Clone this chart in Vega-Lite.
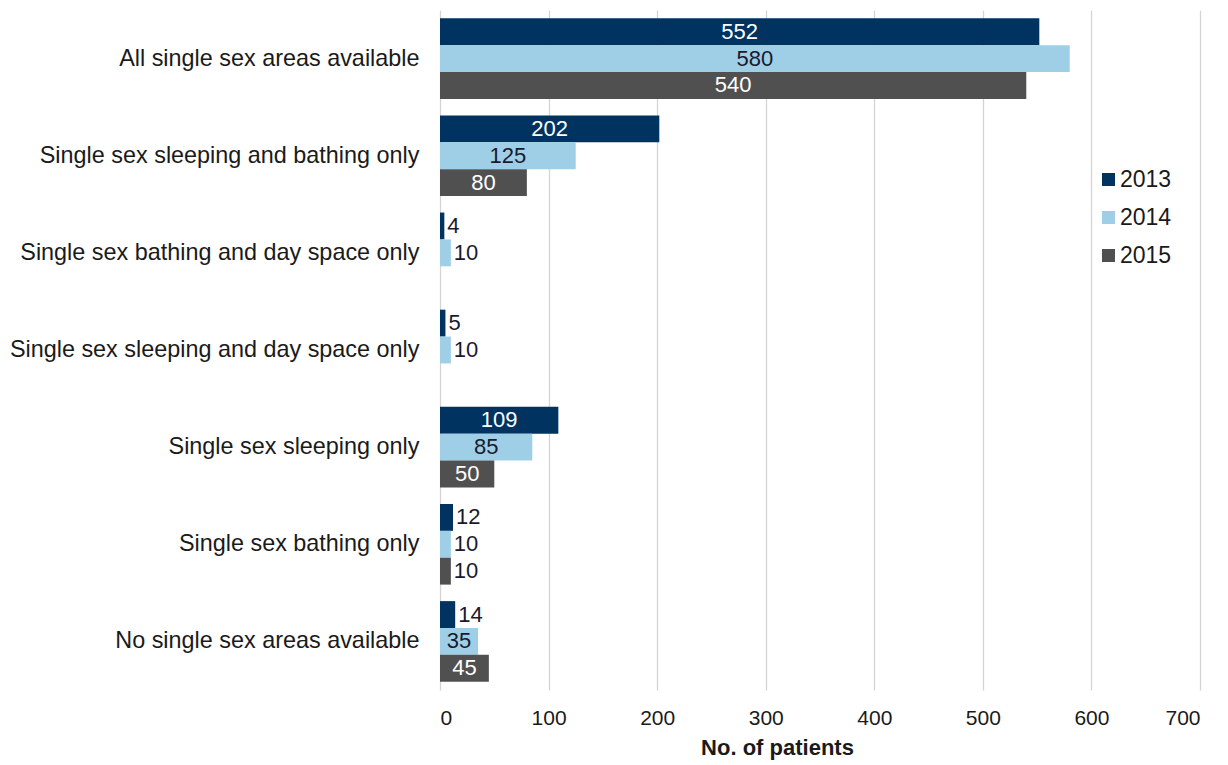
{
  "$schema": "https://vega.github.io/schema/vega-lite/v6.json",
  "autosize": "none",
  "width": 760,
  "height": 680,
  "padding": {"left": 440, "top": 10, "right": 28, "bottom": 75},
  "background": "white",
  "config": {
    "font": "Liberation Sans",
    "view": {"stroke": null}
  },
  "data": {
    "values": [
      {"cat": "All single sex areas available", "year": "2013", "v": 552},
      {"cat": "All single sex areas available", "year": "2014", "v": 580},
      {"cat": "All single sex areas available", "year": "2015", "v": 540},
      {"cat": "Single sex sleeping and bathing only", "year": "2013", "v": 202},
      {"cat": "Single sex sleeping and bathing only", "year": "2014", "v": 125},
      {"cat": "Single sex sleeping and bathing only", "year": "2015", "v": 80},
      {"cat": "Single sex bathing and day space only", "year": "2013", "v": 4},
      {"cat": "Single sex bathing and day space only", "year": "2014", "v": 10},
      {"cat": "Single sex sleeping and day space only", "year": "2013", "v": 5},
      {"cat": "Single sex sleeping and day space only", "year": "2014", "v": 10},
      {"cat": "Single sex sleeping only", "year": "2013", "v": 109},
      {"cat": "Single sex sleeping only", "year": "2014", "v": 85},
      {"cat": "Single sex sleeping only", "year": "2015", "v": 50},
      {"cat": "Single sex bathing only", "year": "2013", "v": 12},
      {"cat": "Single sex bathing only", "year": "2014", "v": 10},
      {"cat": "Single sex bathing only", "year": "2015", "v": 10},
      {"cat": "No single sex areas available", "year": "2013", "v": 14},
      {"cat": "No single sex areas available", "year": "2014", "v": 35},
      {"cat": "No single sex areas available", "year": "2015", "v": 45}
    ]
  },
  "encoding": {
    "y": {
      "field": "cat", "type": "nominal", "sort": null,
      "scale": {"paddingInner": 0.17, "paddingOuter": 0.085},
      "axis": {"title": null, "ticks": false, "domain": false, "labelFontSize": 23.4, "labelColor": "#1a1a1a", "labelPadding": 21, "labelLimit": 440}
    },
    "yOffset": {"field": "year", "type": "nominal", "scale": {"paddingInner": 0, "paddingOuter": 0}}
  },
  "layer": [
    {
      "mark": {"type": "bar"},
      "encoding": {
        "x": {
          "field": "v", "type": "quantitative",
          "scale": {"domain": [0, 700], "nice": false},
          "axis": {
            "title": "No. of patients", "titleFontSize": 22, "titleFontWeight": "bold", "titleColor": "#1a1a1a", "titlePadding": 9,
            "titleX": 337, "titleAnchor": "middle", "titleAlign": "center",
            "values": [0, 100, 200, 300, 400, 500, 600, 700],
            "domain": false, "ticks": false, "labelFontSize": 21, "labelColor": "#1a1a1a", "labelPadding": 17,
            "grid": true, "gridColor": "#d4d4d4", "gridWidth": 1.3
          }
        },
        "color": {
          "field": "year", "type": "nominal",
          "scale": {"domain": ["2013", "2014", "2015"], "range": ["#003360", "#9ecfe6", "#505050"]},
          "legend": {
            "title": null, "orient": "none", "legendX": 657, "legendY": 158,
            "symbolType": "square", "symbolSize": 169, "symbolStrokeWidth": 0,
            "labelFontSize": 23, "labelColor": "#1a1a1a", "rowPadding": 14, "labelOffset": 0
          }
        }
      }
    },
    {
      "transform": [{"filter": "datum.v >= 20 && datum.year != '2014'"}, {"calculate": "datum.v / 2", "as": "mid"}],
      "mark": {"type": "text", "align": "center", "baseline": "middle", "fontSize": 22, "fill": "white"},
      "encoding": {
        "x": {"field": "mid", "type": "quantitative"},
        "text": {"field": "v", "type": "quantitative"}
      }
    },
    {
      "transform": [{"filter": "datum.v >= 20 && datum.year == '2014'"}, {"calculate": "datum.v / 2", "as": "mid"}],
      "mark": {"type": "text", "align": "center", "baseline": "middle", "fontSize": 22, "fill": "#1a1a2e"},
      "encoding": {
        "x": {"field": "mid", "type": "quantitative"},
        "text": {"field": "v", "type": "quantitative"}
      }
    },
    {
      "transform": [{"filter": "datum.v < 20"}],
      "mark": {"type": "text", "align": "left", "baseline": "middle", "fontSize": 22, "dx": 3, "fill": "#1a1a2e"},
      "encoding": {
        "x": {"field": "v", "type": "quantitative"},
        "text": {"field": "v", "type": "quantitative"}
      }
    }
  ]
}
